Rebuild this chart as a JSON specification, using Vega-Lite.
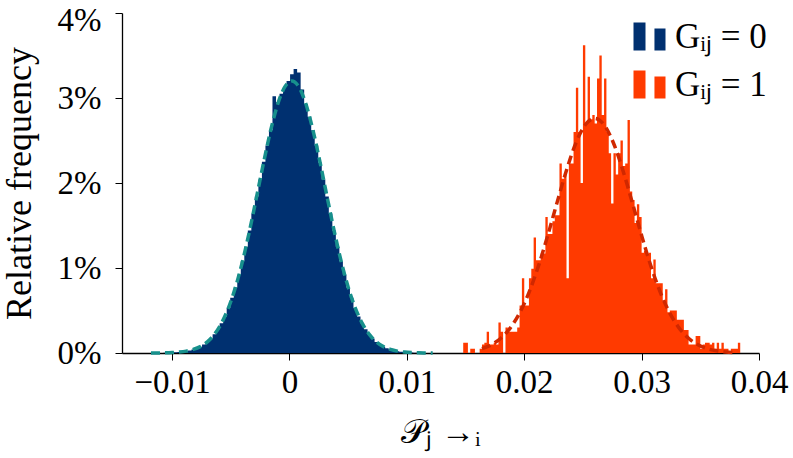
{
  "$schema": "https://vega.github.io/schema/vega-lite/v6.json",
  "autosize": {"type": "none"},
  "padding": {"left": 122, "top": 13, "right": 34, "bottom": 105},
  "width": 637,
  "height": 340,
  "config": {"view": {"stroke": null}, "font": "Liberation Serif"},
  "datasets": {
    "hist": [
      {"x": -0.01195, "y": 0, "g": "Gᵢⱼ = 0"},
      {"x": -0.01165, "y": 0, "g": "Gᵢⱼ = 0"},
      {"x": -0.01135, "y": 0, "g": "Gᵢⱼ = 0"},
      {"x": -0.01105, "y": 0, "g": "Gᵢⱼ = 0"},
      {"x": -0.01075, "y": 0.002, "g": "Gᵢⱼ = 0"},
      {"x": -0.01045, "y": 0.004, "g": "Gᵢⱼ = 0"},
      {"x": -0.01015, "y": 0.005, "g": "Gᵢⱼ = 0"},
      {"x": -0.00985, "y": 0.008, "g": "Gᵢⱼ = 0"},
      {"x": -0.00955, "y": 0.011, "g": "Gᵢⱼ = 0"},
      {"x": -0.00925, "y": 0.016, "g": "Gᵢⱼ = 0"},
      {"x": -0.00895, "y": 0.022, "g": "Gᵢⱼ = 0"},
      {"x": -0.00865, "y": 0.03, "g": "Gᵢⱼ = 0"},
      {"x": -0.00835, "y": 0.042, "g": "Gᵢⱼ = 0"},
      {"x": -0.00805, "y": 0.056, "g": "Gᵢⱼ = 0"},
      {"x": -0.00775, "y": 0.075, "g": "Gᵢⱼ = 0"},
      {"x": -0.00745, "y": 0.1, "g": "Gᵢⱼ = 0"},
      {"x": -0.00715, "y": 0.13, "g": "Gᵢⱼ = 0"},
      {"x": -0.00685, "y": 0.17, "g": "Gᵢⱼ = 0"},
      {"x": -0.00655, "y": 0.22, "g": "Gᵢⱼ = 0"},
      {"x": -0.00625, "y": 0.28, "g": "Gᵢⱼ = 0"},
      {"x": -0.00595, "y": 0.35, "g": "Gᵢⱼ = 0"},
      {"x": -0.00565, "y": 0.43, "g": "Gᵢⱼ = 0"},
      {"x": -0.00535, "y": 0.53, "g": "Gᵢⱼ = 0"},
      {"x": -0.00505, "y": 0.65, "g": "Gᵢⱼ = 0"},
      {"x": -0.00475, "y": 0.77, "g": "Gᵢⱼ = 0"},
      {"x": -0.00445, "y": 0.92, "g": "Gᵢⱼ = 0"},
      {"x": -0.00415, "y": 1.08, "g": "Gᵢⱼ = 0"},
      {"x": -0.00385, "y": 1.25, "g": "Gᵢⱼ = 0"},
      {"x": -0.00355, "y": 1.44, "g": "Gᵢⱼ = 0"},
      {"x": -0.00325, "y": 1.64, "g": "Gᵢⱼ = 0"},
      {"x": -0.00295, "y": 1.84, "g": "Gᵢⱼ = 0"},
      {"x": -0.00265, "y": 2.04, "g": "Gᵢⱼ = 0"},
      {"x": -0.00235, "y": 2.25, "g": "Gᵢⱼ = 0"},
      {"x": -0.00205, "y": 2.44, "g": "Gᵢⱼ = 0"},
      {"x": -0.00175, "y": 2.62, "g": "Gᵢⱼ = 0"},
      {"x": -0.00145, "y": 3.02, "g": "Gᵢⱼ = 0"},
      {"x": -0.00115, "y": 2.95, "g": "Gᵢⱼ = 0"},
      {"x": -0.00085, "y": 3.05, "g": "Gᵢⱼ = 0"},
      {"x": -0.00055, "y": 3.13, "g": "Gᵢⱼ = 0"},
      {"x": -0.00025, "y": 3.2, "g": "Gᵢⱼ = 0"},
      {"x": 0.00005, "y": 3.28, "g": "Gᵢⱼ = 0"},
      {"x": 0.00035, "y": 3.34, "g": "Gᵢⱼ = 0"},
      {"x": 0.00065, "y": 3.3, "g": "Gᵢⱼ = 0"},
      {"x": 0.00095, "y": 3.1, "g": "Gᵢⱼ = 0"},
      {"x": 0.00125, "y": 2.93, "g": "Gᵢⱼ = 0"},
      {"x": 0.00155, "y": 2.78, "g": "Gᵢⱼ = 0"},
      {"x": 0.00185, "y": 2.62, "g": "Gᵢⱼ = 0"},
      {"x": 0.00215, "y": 2.44, "g": "Gᵢⱼ = 0"},
      {"x": 0.00245, "y": 2.24, "g": "Gᵢⱼ = 0"},
      {"x": 0.00275, "y": 2.04, "g": "Gᵢⱼ = 0"},
      {"x": 0.00305, "y": 1.84, "g": "Gᵢⱼ = 0"},
      {"x": 0.00335, "y": 1.64, "g": "Gᵢⱼ = 0"},
      {"x": 0.00365, "y": 1.44, "g": "Gᵢⱼ = 0"},
      {"x": 0.00395, "y": 1.25, "g": "Gᵢⱼ = 0"},
      {"x": 0.00425, "y": 1.08, "g": "Gᵢⱼ = 0"},
      {"x": 0.00455, "y": 0.92, "g": "Gᵢⱼ = 0"},
      {"x": 0.00485, "y": 0.77, "g": "Gᵢⱼ = 0"},
      {"x": 0.00515, "y": 0.65, "g": "Gᵢⱼ = 0"},
      {"x": 0.00545, "y": 0.53, "g": "Gᵢⱼ = 0"},
      {"x": 0.00575, "y": 0.43, "g": "Gᵢⱼ = 0"},
      {"x": 0.00605, "y": 0.35, "g": "Gᵢⱼ = 0"},
      {"x": 0.00635, "y": 0.28, "g": "Gᵢⱼ = 0"},
      {"x": 0.00665, "y": 0.22, "g": "Gᵢⱼ = 0"},
      {"x": 0.00695, "y": 0.17, "g": "Gᵢⱼ = 0"},
      {"x": 0.00725, "y": 0.13, "g": "Gᵢⱼ = 0"},
      {"x": 0.00755, "y": 0.1, "g": "Gᵢⱼ = 0"},
      {"x": 0.00785, "y": 0.075, "g": "Gᵢⱼ = 0"},
      {"x": 0.00815, "y": 0.056, "g": "Gᵢⱼ = 0"},
      {"x": 0.00845, "y": 0.042, "g": "Gᵢⱼ = 0"},
      {"x": 0.00875, "y": 0.03, "g": "Gᵢⱼ = 0"},
      {"x": 0.00905, "y": 0.022, "g": "Gᵢⱼ = 0"},
      {"x": 0.00935, "y": 0.016, "g": "Gᵢⱼ = 0"},
      {"x": 0.00965, "y": 0.011, "g": "Gᵢⱼ = 0"},
      {"x": 0.00995, "y": 0.008, "g": "Gᵢⱼ = 0"},
      {"x": 0.01025, "y": 0.005, "g": "Gᵢⱼ = 0"},
      {"x": 0.01055, "y": 0.004, "g": "Gᵢⱼ = 0"},
      {"x": 0.01085, "y": 0.002, "g": "Gᵢⱼ = 0"},
      {"x": 0.01115, "y": 0, "g": "Gᵢⱼ = 0"},
      {"x": 0.01145, "y": 0, "g": "Gᵢⱼ = 0"},
      {"x": 0.01175, "y": 0, "g": "Gᵢⱼ = 0"},
      {"x": 0.01205, "y": 0, "g": "Gᵢⱼ = 0"},
      {"x": 0.01235, "y": 0, "g": "Gᵢⱼ = 0"},
      {"x": 0.0148, "y": 0.12, "g": "Gᵢⱼ = 1"},
      {"x": 0.015, "y": 0.12, "g": "Gᵢⱼ = 1"},
      {"x": 0.0152, "y": 0, "g": "Gᵢⱼ = 1"},
      {"x": 0.0154, "y": 0.05, "g": "Gᵢⱼ = 1"},
      {"x": 0.0156, "y": 0.05, "g": "Gᵢⱼ = 1"},
      {"x": 0.0158, "y": 0, "g": "Gᵢⱼ = 1"},
      {"x": 0.016, "y": 0, "g": "Gᵢⱼ = 1"},
      {"x": 0.0162, "y": 0.05, "g": "Gᵢⱼ = 1"},
      {"x": 0.0164, "y": 0.1, "g": "Gᵢⱼ = 1"},
      {"x": 0.0166, "y": 0.12, "g": "Gᵢⱼ = 1"},
      {"x": 0.0168, "y": 0.25, "g": "Gᵢⱼ = 1"},
      {"x": 0.017, "y": 0.1, "g": "Gᵢⱼ = 1"},
      {"x": 0.0172, "y": 0.1, "g": "Gᵢⱼ = 1"},
      {"x": 0.0174, "y": 0.12, "g": "Gᵢⱼ = 1"},
      {"x": 0.0176, "y": 0.1, "g": "Gᵢⱼ = 1"},
      {"x": 0.0178, "y": 0.36, "g": "Gᵢⱼ = 1"},
      {"x": 0.018, "y": 0.25, "g": "Gᵢⱼ = 1"},
      {"x": 0.0182, "y": 0, "g": "Gᵢⱼ = 1"},
      {"x": 0.0184, "y": 0.3, "g": "Gᵢⱼ = 1"},
      {"x": 0.0186, "y": 0.25, "g": "Gᵢⱼ = 1"},
      {"x": 0.0188, "y": 0.25, "g": "Gᵢⱼ = 1"},
      {"x": 0.019, "y": 0.25, "g": "Gᵢⱼ = 1"},
      {"x": 0.0192, "y": 0.25, "g": "Gᵢⱼ = 1"},
      {"x": 0.0194, "y": 0.3, "g": "Gᵢⱼ = 1"},
      {"x": 0.0196, "y": 0.56, "g": "Gᵢⱼ = 1"},
      {"x": 0.0198, "y": 0.88, "g": "Gᵢⱼ = 1"},
      {"x": 0.02, "y": 0.56, "g": "Gᵢⱼ = 1"},
      {"x": 0.0202, "y": 0.56, "g": "Gᵢⱼ = 1"},
      {"x": 0.0204, "y": 0.88, "g": "Gᵢⱼ = 1"},
      {"x": 0.0206, "y": 0.99, "g": "Gᵢⱼ = 1"},
      {"x": 0.0208, "y": 1.36, "g": "Gᵢⱼ = 1"},
      {"x": 0.021, "y": 1.09, "g": "Gᵢⱼ = 1"},
      {"x": 0.0212, "y": 1.09, "g": "Gᵢⱼ = 1"},
      {"x": 0.0214, "y": 1.17, "g": "Gᵢⱼ = 1"},
      {"x": 0.0216, "y": 1.17, "g": "Gᵢⱼ = 1"},
      {"x": 0.0218, "y": 1.6, "g": "Gᵢⱼ = 1"},
      {"x": 0.022, "y": 1.4, "g": "Gᵢⱼ = 1"},
      {"x": 0.0222, "y": 1.4, "g": "Gᵢⱼ = 1"},
      {"x": 0.0224, "y": 1.55, "g": "Gᵢⱼ = 1"},
      {"x": 0.0226, "y": 1.62, "g": "Gᵢⱼ = 1"},
      {"x": 0.0228, "y": 1.62, "g": "Gᵢⱼ = 1"},
      {"x": 0.023, "y": 2.23, "g": "Gᵢⱼ = 1"},
      {"x": 0.0232, "y": 2.05, "g": "Gᵢⱼ = 1"},
      {"x": 0.0234, "y": 2.1, "g": "Gᵢⱼ = 1"},
      {"x": 0.0236, "y": 0.88, "g": "Gᵢⱼ = 1"},
      {"x": 0.0238, "y": 2.23, "g": "Gᵢⱼ = 1"},
      {"x": 0.024, "y": 2.23, "g": "Gᵢⱼ = 1"},
      {"x": 0.0242, "y": 2.6, "g": "Gᵢⱼ = 1"},
      {"x": 0.0244, "y": 3.12, "g": "Gᵢⱼ = 1"},
      {"x": 0.0246, "y": 2.6, "g": "Gᵢⱼ = 1"},
      {"x": 0.0248, "y": 2.0, "g": "Gᵢⱼ = 1"},
      {"x": 0.025, "y": 3.62, "g": "Gᵢⱼ = 1"},
      {"x": 0.0252, "y": 2.7, "g": "Gᵢⱼ = 1"},
      {"x": 0.0254, "y": 3.25, "g": "Gᵢⱼ = 1"},
      {"x": 0.0256, "y": 2.75, "g": "Gᵢⱼ = 1"},
      {"x": 0.0258, "y": 2.8, "g": "Gᵢⱼ = 1"},
      {"x": 0.026, "y": 2.7, "g": "Gᵢⱼ = 1"},
      {"x": 0.0262, "y": 3.23, "g": "Gᵢⱼ = 1"},
      {"x": 0.0264, "y": 3.5, "g": "Gᵢⱼ = 1"},
      {"x": 0.0266, "y": 2.8, "g": "Gᵢⱼ = 1"},
      {"x": 0.0268, "y": 3.23, "g": "Gᵢⱼ = 1"},
      {"x": 0.027, "y": 2.6, "g": "Gᵢⱼ = 1"},
      {"x": 0.0272, "y": 2.35, "g": "Gᵢⱼ = 1"},
      {"x": 0.0274, "y": 1.76, "g": "Gᵢⱼ = 1"},
      {"x": 0.0276, "y": 2.35, "g": "Gᵢⱼ = 1"},
      {"x": 0.0278, "y": 2.1, "g": "Gᵢⱼ = 1"},
      {"x": 0.028, "y": 2.35, "g": "Gᵢⱼ = 1"},
      {"x": 0.0282, "y": 2.5, "g": "Gᵢⱼ = 1"},
      {"x": 0.0284, "y": 2.2, "g": "Gᵢⱼ = 1"},
      {"x": 0.0286, "y": 2.23, "g": "Gᵢⱼ = 1"},
      {"x": 0.0288, "y": 2.74, "g": "Gᵢⱼ = 1"},
      {"x": 0.029, "y": 1.9, "g": "Gᵢⱼ = 1"},
      {"x": 0.0292, "y": 1.8, "g": "Gᵢⱼ = 1"},
      {"x": 0.0294, "y": 1.53, "g": "Gᵢⱼ = 1"},
      {"x": 0.0296, "y": 1.75, "g": "Gᵢⱼ = 1"},
      {"x": 0.0298, "y": 1.6, "g": "Gᵢⱼ = 1"},
      {"x": 0.03, "y": 1.18, "g": "Gᵢⱼ = 1"},
      {"x": 0.0302, "y": 1.2, "g": "Gᵢⱼ = 1"},
      {"x": 0.0304, "y": 1.15, "g": "Gᵢⱼ = 1"},
      {"x": 0.0306, "y": 1.18, "g": "Gᵢⱼ = 1"},
      {"x": 0.0308, "y": 0.88, "g": "Gᵢⱼ = 1"},
      {"x": 0.031, "y": 1.1, "g": "Gᵢⱼ = 1"},
      {"x": 0.0312, "y": 0.82, "g": "Gᵢⱼ = 1"},
      {"x": 0.0314, "y": 0.82, "g": "Gᵢⱼ = 1"},
      {"x": 0.0316, "y": 0.82, "g": "Gᵢⱼ = 1"},
      {"x": 0.0318, "y": 0.6, "g": "Gᵢⱼ = 1"},
      {"x": 0.032, "y": 0.75, "g": "Gᵢⱼ = 1"},
      {"x": 0.0322, "y": 0.48, "g": "Gᵢⱼ = 1"},
      {"x": 0.0324, "y": 0.5, "g": "Gᵢⱼ = 1"},
      {"x": 0.0326, "y": 0.5, "g": "Gᵢⱼ = 1"},
      {"x": 0.0328, "y": 0.5, "g": "Gᵢⱼ = 1"},
      {"x": 0.033, "y": 0.39, "g": "Gᵢⱼ = 1"},
      {"x": 0.0332, "y": 0.39, "g": "Gᵢⱼ = 1"},
      {"x": 0.0334, "y": 0.39, "g": "Gᵢⱼ = 1"},
      {"x": 0.0336, "y": 0.27, "g": "Gᵢⱼ = 1"},
      {"x": 0.0338, "y": 0.27, "g": "Gᵢⱼ = 1"},
      {"x": 0.034, "y": 0.1, "g": "Gᵢⱼ = 1"},
      {"x": 0.0342, "y": 0.1, "g": "Gᵢⱼ = 1"},
      {"x": 0.0344, "y": 0.1, "g": "Gᵢⱼ = 1"},
      {"x": 0.0346, "y": 0.2, "g": "Gᵢⱼ = 1"},
      {"x": 0.0348, "y": 0.2, "g": "Gᵢⱼ = 1"},
      {"x": 0.035, "y": 0.05, "g": "Gᵢⱼ = 1"},
      {"x": 0.0352, "y": 0.1, "g": "Gᵢⱼ = 1"},
      {"x": 0.0354, "y": 0.12, "g": "Gᵢⱼ = 1"},
      {"x": 0.0356, "y": 0.12, "g": "Gᵢⱼ = 1"},
      {"x": 0.0358, "y": 0.1, "g": "Gᵢⱼ = 1"},
      {"x": 0.036, "y": 0.12, "g": "Gᵢⱼ = 1"},
      {"x": 0.0362, "y": 0.05, "g": "Gᵢⱼ = 1"},
      {"x": 0.0364, "y": 0.12, "g": "Gᵢⱼ = 1"},
      {"x": 0.0366, "y": 0.05, "g": "Gᵢⱼ = 1"},
      {"x": 0.0368, "y": 0.12, "g": "Gᵢⱼ = 1"},
      {"x": 0.037, "y": 0.05, "g": "Gᵢⱼ = 1"},
      {"x": 0.0372, "y": 0.05, "g": "Gᵢⱼ = 1"},
      {"x": 0.0374, "y": 0, "g": "Gᵢⱼ = 1"},
      {"x": 0.0376, "y": 0.05, "g": "Gᵢⱼ = 1"},
      {"x": 0.0378, "y": 0.05, "g": "Gᵢⱼ = 1"},
      {"x": 0.038, "y": 0.05, "g": "Gᵢⱼ = 1"},
      {"x": 0.0382, "y": 0.12, "g": "Gᵢⱼ = 1"},
      {"x": 0.0384, "y": 0, "g": "Gᵢⱼ = 1"}
    ],
    "fit0": [
      {"x": -0.0118, "y": 0}, {"x": -0.0112, "y": 0.001}, {"x": -0.0106, "y": 0.002},
      {"x": -0.01, "y": 0.005}, {"x": -0.0094, "y": 0.011}, {"x": -0.0088, "y": 0.022},
      {"x": -0.0082, "y": 0.042}, {"x": -0.0076, "y": 0.075}, {"x": -0.007, "y": 0.131},
      {"x": -0.0064, "y": 0.219}, {"x": -0.0058, "y": 0.349}, {"x": -0.0052, "y": 0.532},
      {"x": -0.0046, "y": 0.775}, {"x": -0.004, "y": 1.08}, {"x": -0.0034, "y": 1.441},
      {"x": -0.0028, "y": 1.839}, {"x": -0.0022, "y": 2.245}, {"x": -0.0016, "y": 2.621},
      {"x": -0.001, "y": 2.929}, {"x": -0.0004, "y": 3.13}, {"x": 0.0002, "y": 3.2},
      {"x": 0.0008, "y": 3.13}, {"x": 0.0014, "y": 2.929}, {"x": 0.002, "y": 2.621},
      {"x": 0.0026, "y": 2.245}, {"x": 0.0032, "y": 1.839}, {"x": 0.0038, "y": 1.441},
      {"x": 0.0044, "y": 1.08}, {"x": 0.005, "y": 0.775}, {"x": 0.0056, "y": 0.532},
      {"x": 0.0062, "y": 0.349}, {"x": 0.0068, "y": 0.219}, {"x": 0.0074, "y": 0.131},
      {"x": 0.008, "y": 0.075}, {"x": 0.0086, "y": 0.042}, {"x": 0.0092, "y": 0.022},
      {"x": 0.0098, "y": 0.011}, {"x": 0.0104, "y": 0.005}, {"x": 0.011, "y": 0.002},
      {"x": 0.0116, "y": 0.001}, {"x": 0.0122, "y": 0}
    ],
    "fit1": [
      {"x": 0.0164, "y": 0.051}, {"x": 0.0172, "y": 0.097}, {"x": 0.018, "y": 0.173},
      {"x": 0.0188, "y": 0.293}, {"x": 0.0196, "y": 0.469}, {"x": 0.0204, "y": 0.711},
      {"x": 0.0212, "y": 1.019}, {"x": 0.022, "y": 1.382}, {"x": 0.0228, "y": 1.772},
      {"x": 0.0236, "y": 2.151}, {"x": 0.0244, "y": 2.471}, {"x": 0.0252, "y": 2.685},
      {"x": 0.026, "y": 2.76}, {"x": 0.0268, "y": 2.685}, {"x": 0.0276, "y": 2.471},
      {"x": 0.0284, "y": 2.151}, {"x": 0.0292, "y": 1.772}, {"x": 0.03, "y": 1.382},
      {"x": 0.0308, "y": 1.019}, {"x": 0.0316, "y": 0.711}, {"x": 0.0324, "y": 0.469},
      {"x": 0.0332, "y": 0.293}, {"x": 0.034, "y": 0.173}, {"x": 0.0348, "y": 0.097},
      {"x": 0.0356, "y": 0.051}, {"x": 0.0364, "y": 0.026}, {"x": 0.0372, "y": 0.012},
      {"x": 0.038, "y": 0.005}
    ]
  },
  "layer": [
    {
      "data": {"name": "hist"},
      "mark": {"type": "area", "interpolate": "step-after", "opacity": 1},
      "encoding": {
        "x": {
          "field": "x", "type": "quantitative",
          "scale": {"domain": [-0.01427, 0.04], "nice": false, "zero": false},
          "axis": {
            "values": [-0.01, 0, 0.01, 0.02, 0.03, 0.04],
            "format": ".2~f",
            "grid": false,
            "labelFontSize": 33, "labelColor": "black", "labelFont": "Liberation Serif",
            "labelPadding": 6, "labelFlush": false, "labelOverlap": false,
            "tickColor": "black", "tickSize": 7, "tickWidth": 1,
            "domainColor": "black", "domainWidth": 1.3,
            "title": "𝒫ⱼ →ᵢ", "titleFontSize": 34, "titleFontWeight": "normal",
            "titleFont": "Liberation Serif", "titleColor": "black", "titlePadding": 16
          }
        },
        "y": {
          "field": "y", "type": "quantitative", "stack": null,
          "scale": {"domain": [0, 4], "nice": false},
          "axis": {
            "values": [0, 1, 2, 3, 4],
            "labelExpr": "datum.value + '%'",
            "grid": false,
            "labelFontSize": 33, "labelColor": "black", "labelFont": "Liberation Serif",
            "labelPadding": 14, "labelFlush": false, "labelOverlap": false,
            "labelOffset": {"condition": {"test": "datum.value == 4", "value": 7}, "value": 0},
            "tickColor": "black", "tickSize": 7, "tickWidth": 1,
            "domainColor": "black", "domainWidth": 1.3,
            "title": "Relative frequency", "titleFontSize": 36, "titleFontWeight": "normal",
            "titleFont": "Liberation Serif", "titleColor": "black", "titlePadding": 19
          }
        },
        "color": {
          "field": "g", "type": "nominal",
          "scale": {"domain": ["Gᵢⱼ = 0", "Gᵢⱼ = 1"], "range": ["#003070", "#ff3a00"]},
          "legend": {
            "orient": "none", "legendX": 510, "legendY": 6, "title": null,
            "symbolType": "M-1,-0.875H-0.25V0.875H-1Z M0.31,-0.5H1V0.875H0.31Z",
            "symbolSize": 1024, "symbolStrokeWidth": 0, "symbolOpacity": 1,
            "labelFontSize": 35, "labelFont": "Liberation Serif", "labelColor": "black",
            "labelOffset": 8, "rowPadding": 12
          }
        }
      }
    },
    {
      "data": {"name": "fit0"},
      "mark": {"type": "line", "color": "#17908c", "strokeDash": [9, 5], "strokeWidth": 3.5, "interpolate": "monotone"},
      "encoding": {
        "x": {"field": "x", "type": "quantitative"},
        "y": {"field": "y", "type": "quantitative"}
      }
    },
    {
      "data": {"name": "fit1"},
      "mark": {"type": "line", "color": "#d02800", "strokeDash": [9, 5], "strokeWidth": 3.5, "interpolate": "monotone"},
      "encoding": {
        "x": {"field": "x", "type": "quantitative"},
        "y": {"field": "y", "type": "quantitative"}
      }
    },
    {
      "mark": {"type": "rule", "color": "#e02828", "strokeDash": [2, 4.5], "strokeWidth": 2.2},
      "encoding": {"x": {"datum": 0.01244}}
    },
    {
      "mark": {"type": "point", "shape": "M-1,-1 C-0.7,-0.4 -0.3,-0.1 0,0 C-0.3,0.1 -0.7,0.4 -1,1", "size": 225, "filled": false, "stroke": "black", "strokeWidth": 1.4, "opacity": 1},
      "encoding": {"x": {"datum": 0.04}, "y": {"datum": 0}}
    },
    {
      "mark": {"type": "point", "shape": "M-1,1 C-0.4,0.7 -0.1,0.3 0,0 C0.1,0.3 0.4,0.7 1,1", "size": 225, "filled": false, "stroke": "black", "strokeWidth": 1.4, "opacity": 1},
      "encoding": {"x": {"datum": -0.01427}, "y": {"datum": 4}}
    }
  ]
}
